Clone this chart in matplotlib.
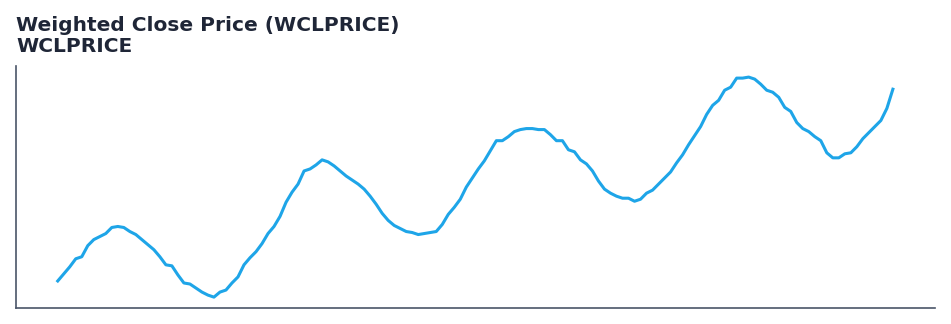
import matplotlib.pyplot as plt
import numpy as np

# weighted close price (arbitrary price units)
y_px = [
    280, 273, 266, 258, 256, 245, 239, 236, 233, 227,
    226, 227, 231, 234, 239, 244, 249, 256, 264, 265,
    274, 282, 283, 287, 291, 294, 296, 291, 289, 282,
    276, 264, 257, 251, 243, 233, 226, 216, 202, 192,
    184, 171, 169, 165, 160, 162, 166, 171, 176, 180,
    184, 189, 196, 204, 213, 220, 225, 228, 231, 232,
    234, 233, 232, 231, 224, 214, 207, 199, 187, 178,
    169, 161, 151, 141, 141, 137, 132, 130, 129, 129,
    130, 130, 135, 141, 141, 150, 152, 160, 164, 171,
    181, 189, 193, 196, 198, 198, 201, 199, 193, 190,
    184, 178, 172, 163, 155, 145, 136, 127, 115, 106,
    101, 91, 88, 79, 79, 78, 80, 85, 91, 93,
    98, 108, 112, 123, 129, 132, 137, 141, 153, 158,
    158, 154, 153, 147, 139, 133, 127, 121, 109, 90,
]
wclprice = [round(100 + (300 - v) / 5, 2) for v in y_px]
bars = np.arange(len(wclprice))

title_color = "#1f2637"
spine_color = "#4a5568"
line_color = "#1ea5e8"

fig = plt.figure(figsize=(9.51, 3.24), dpi=100)
ax = fig.add_axes([0.0168, 0.049, 0.966, 0.747])
ax.plot(bars, wclprice, color=line_color, linewidth=2.2)

for side in ("top", "right"):
    ax.spines[side].set_visible(False)
for side in ("left", "bottom"):
    ax.spines[side].set_color(spine_color)
    ax.spines[side].set_linewidth(1.2)
ax.set_xticks([])
ax.set_yticks([])

fig.text(0.0168, 0.951, "Weighted Close Price (WCLPRICE)\nWCLPRICE",
         ha="left", va="top", fontsize=14.5, fontweight="bold",
         color=title_color, linespacing=1.12)

fig.savefig("out.png", dpi=100)
